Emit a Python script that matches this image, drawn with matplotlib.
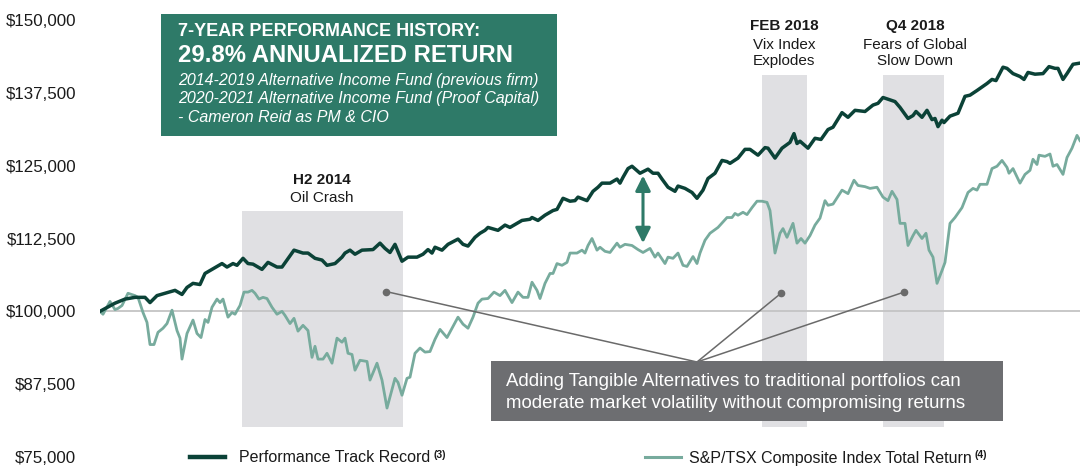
import matplotlib
matplotlib.use("Agg")
import matplotlib.pyplot as plt
from matplotlib.patches import Rectangle
from matplotlib.lines import Line2D
from matplotlib.transforms import Affine2D

plt.rcParams['font.family'] = ['Liberation Sans', 'DejaVu Sans']

# ---------------- data ----------------
# time axis is an untitled timeline position (no tick labels on the chart)
perf_t = [100, 115, 125, 135, 145, 150, 157, 165, 175, 182, 187, 193, 200, 205, 212, 222, 227, 233, 237, 243,
          248, 253, 262, 268, 277, 282, 287, 294, 303, 308, 315, 322, 327, 335, 342, 345, 350, 355, 362, 373,
          380, 385, 390, 395, 402, 408, 417, 423, 428, 432, 435, 442, 448, 458, 463, 468, 475, 480, 485, 488,
          492, 498, 505, 510, 522, 530, 532, 538, 545, 553, 557, 563, 570, 575, 578, 587, 593, 598, 602, 610,
          617, 620, 623, 628, 632, 640, 648, 653, 658, 662, 668, 675, 678, 685, 692, 697, 703, 708, 715, 722,
          727, 730, 738, 745, 750, 758, 765, 768, 775, 782, 790, 794, 797, 800, 808, 815, 821, 828, 833, 842,
          848, 855, 865, 873, 878, 883, 888, 895, 900, 908, 913, 916, 922, 927, 932, 935, 938, 942, 944, 950,
          958, 965, 970, 977, 987, 992, 996, 1003, 1007, 1013, 1020, 1024, 1028, 1035, 1043, 1049, 1055, 1058,
          1063, 1067, 1073, 1080]
perf_val = [100000, 101400, 102100, 102400, 102400, 101500, 102700, 103100, 103600, 102900, 104100, 104800,
            104600, 106500, 107200, 108200, 107600, 108200, 107900, 109100, 108200, 108100, 107200, 108400,
            107600, 107600, 108800, 110500, 110000, 110000, 109100, 108800, 107900, 108200, 109300, 110000,
            110500, 109800, 110500, 110600, 111700, 110800, 110100, 111500, 108600, 109300, 109300, 109800,
            110600, 110000, 111000, 110500, 111500, 112400, 111500, 111200, 112700, 113400, 113900, 114400,
            114200, 113900, 114800, 114400, 115600, 115800, 116100, 115600, 116500, 117300, 117500, 119400,
            118900, 119000, 119600, 119000, 120600, 121300, 122000, 122000, 122700, 122000, 123000, 124500,
            124900, 123700, 124400, 123700, 123700, 122700, 121300, 120600, 121500, 121100, 120400, 119400,
            120800, 122800, 123700, 125900, 125700, 125400, 126300, 127800, 127800, 126800, 128100, 128000,
            126300, 128000, 129000, 130500, 128800, 129200, 128000, 129700, 129500, 131200, 131600, 134100,
            133300, 134500, 134300, 135400, 135700, 136700, 136400, 136000, 135000, 133100, 133600, 134300,
            133300, 134500, 132900, 133100, 131700, 132800, 132400, 133500, 134000, 136900, 137100, 137900,
            139100, 139800, 139600, 141900, 141700, 140800, 140300, 139800, 141000, 140700, 140800, 142000,
            141700, 141700, 139800, 140800, 142400, 142600]

tsx_t = [100, 103, 110, 115, 118, 122, 128, 135, 138, 143, 147, 150, 154, 158, 163, 167, 172, 177, 180, 182,
         187, 193, 197, 201, 205, 208, 212, 217, 220, 223, 228, 232, 235, 240, 244, 248, 252, 255, 259, 263,
         267, 272, 277, 282, 285, 290, 294, 298, 303, 308, 312, 315, 318, 323, 327, 332, 337, 342, 345, 348,
         352, 355, 360, 367, 370, 377, 382, 387, 395, 398, 402, 407, 410, 415, 420, 425, 430, 435, 440, 447,
         453, 458, 463, 468, 473, 478, 482, 488, 494, 500, 505, 512, 518, 523, 528, 532, 537, 540, 545, 550,
         553, 557, 562, 567, 570, 577, 582, 585, 588, 592, 597, 600, 605, 610, 617, 620, 625, 632, 638, 643,
         650, 655, 658, 665, 668, 673, 678, 683, 687, 693, 697, 700, 705, 710, 718, 727, 732, 735, 738, 743,
         747, 752, 757, 762, 767, 770, 775, 780, 783, 787, 793, 797, 801, 805, 810, 815, 820, 825, 828, 833,
         842, 848, 854, 858, 865, 870, 877, 883, 888, 892, 897, 900, 905, 908, 913, 916, 922, 926, 929, 933,
         937, 942, 945, 950, 955, 962, 968, 973, 977, 980, 987, 992, 997, 1002, 1007, 1009, 1013, 1020, 1025,
         1030, 1033, 1037, 1039, 1045, 1050, 1053, 1057, 1063, 1067, 1072, 1077, 1080]
tsx_val = [100000, 99500, 101700, 100300, 100500, 101000, 103100, 102700, 102400, 99800, 98100, 94300, 94300,
           96400, 97100, 97900, 100200, 96700, 95400, 91800, 96200, 98500, 96200, 95500, 98600, 98100, 100700,
           102100, 101500, 102100, 99000, 99800, 99500, 101000, 103300, 103300, 103600, 103100, 102100, 102400,
           102200, 100700, 99500, 100000, 99300, 97900, 98800, 96600, 97600, 96700, 92100, 94000, 91800, 91800,
           92800, 91100, 95400, 94700, 95400, 92800, 92600, 89900, 91600, 91400, 88200, 91100, 88200, 83400,
           88500, 87800, 85600, 88500, 88700, 92800, 93700, 93000, 93100, 95200, 96900, 95500, 97400, 99000,
           97800, 97100, 99000, 101400, 102100, 102200, 103300, 102700, 103600, 101500, 103300, 102400, 102400,
           105000, 103600, 102200, 104800, 106500, 106500, 108200, 107900, 108400, 110000, 110000, 110500,
           110000, 111300, 112500, 110500, 111000, 110300, 110100, 111700, 111000, 111500, 111300, 110600,
           110100, 110800, 109300, 110000, 108200, 109300, 109100, 110000, 107900, 107700, 109400, 108200,
           110000, 112200, 113400, 114400, 116100, 116100, 116800, 116500, 117000, 116600, 117800, 118900,
           118900, 118700, 117300, 110000, 113400, 114200, 112700, 115100, 111700, 112500, 111700, 113000,
           114800, 116000, 119000, 118200, 118400, 120800, 120200, 122500, 121600, 121400, 121100, 121300,
           119600, 119000, 120600, 119200, 115100, 115100, 111300, 113000, 113900, 112500, 113400, 110500,
           109300, 104800, 107000, 108400, 115100, 116100, 117800, 120400, 121100, 120800, 121800, 121800,
           124500, 124900, 125900, 124700, 123700, 124500, 122000, 123500, 124200, 126100, 125200, 126800,
           126600, 127000, 124900, 125200, 123500, 126400, 128000, 130200, 129300]

y_ticks = [75000, 87500, 100000, 112500, 125000, 137500, 150000]
y_tick_labels = ["$75,000", "$87,500", "$100,000", "$112,500", "$125,000", "$137,500", "$150,000"]

event_titles = ["H2 2014", "FEB 2018", "Q4 2018"]
event_subs = ["Oil Crash", "Vix Index\nExplodes", "Fears of Global\nSlow Down"]
event_start = [242, 762, 883]
event_end = [403, 807, 944]

callout_points_t = [386, 781, 904]
callout_points_v = [103400, 103100, 103300]
gap_t = 643
gap_top, gap_bottom = 123300, 111700

series_names = ["Performance Track Record", "S&P/TSX Composite Index Total Return"]
series_notes = ["(3)", "(4)"]

# ---------------- styling ----------------
W, H = 1080, 466
DARK = "#0b4237"
LIGHT = "#77ab9d"
TEAL = "#2e7a68"
SHADE = "#e0e0e3"
GREYBOX = "#6d6e71"
TXT = "#1a1a1a"

fig = plt.figure(figsize=(W / 100, H / 100), dpi=100)
fig.patch.set_facecolor("white")
px = Affine2D().scale(1 / W, -1 / H).translate(0, 1) + fig.transFigure

ax = fig.add_axes([100 / W, 1 - 457 / H, 980 / W, (457 - 20) / H])
ax.set_xlim(100, 1080)
ax.set_ylim(75000, 150000)
for s in ax.spines.values():
    s.set_visible(False)
ax.set_xticks([])
ax.set_yticks(y_ticks)
ax.set_yticklabels(y_tick_labels)
ax.tick_params(axis="y", length=0, pad=17, labelsize=12.2, labelcolor=TXT)
ax.patch.set_alpha(0)

# baseline
ax.axhline(100000, color="#c4c4c4", lw=1.3, zorder=1)

# shaded event spans (top/bottom in pixel layout)
span_top_px = [211, 75, 75]
span_bottom_px = 427
for x0, x1, top in zip(event_start, event_end, span_top_px):
    ax.axvspan(x0, x1, ymin=(457 - span_bottom_px) / 437, ymax=(457 - top) / 437,
               color=SHADE, lw=0, zorder=0)

# series
ax.plot(tsx_t, tsx_val, color=LIGHT, lw=2.0, zorder=3, solid_joinstyle="round")
ax.plot(perf_t, perf_val, color=DARK, lw=2.5, zorder=4, solid_joinstyle="round")

# event labels
label_cx = [322, 784, 915]
label_title_y = [180, 26, 26]
label_sub_y = [198, 45, 45]
for title, sub, x0, yt, ys in zip(event_titles, event_subs, label_cx, label_title_y, label_sub_y):
    fig.text(x0, yt, title, transform=px, fontsize=11, fontweight="bold",
             color=TXT, ha="center", va="center")
    for k, line in enumerate(sub.split("\n")):
        fig.text(x0, ys + 16 * k, line, transform=px, fontsize=11, color=TXT,
                 ha="center", va="center")

# gap arrow
ax.annotate("", xy=(gap_t, gap_top), xytext=(gap_t, gap_bottom),
            arrowprops=dict(arrowstyle="<|-|>,head_length=0.9,head_width=0.45",
                            color=TEAL, lw=2.2, shrinkA=0, shrinkB=0), zorder=5)

# green headline box
fig.add_artist(Rectangle((161, 136), 396, -122, transform=px, facecolor=TEAL, edgecolor="none", zorder=1))
fig.text(178, 32, "7-YEAR PERFORMANCE HISTORY:", transform=px, fontsize=13, fontweight="bold",
         color="white", va="center", ha="left")
fig.text(178, 55, "29.8% ANNUALIZED RETURN", transform=px, fontsize=17.2, fontweight="bold",
         color="white", va="center", ha="left")
for i, line in enumerate(["2014-2019 Alternative Income Fund (previous firm)",
                          "2020-2021 Alternative Income Fund (Proof Capital)",
                          "- Cameron Reid as PM & CIO"]):
    fig.text(178, 80 + i * 19, line, transform=px, fontsize=11.5, style="italic",
             color="white", va="center", ha="left")

# callout
hub = (697, 362)
for tt, vv in zip(callout_points_t, callout_points_v):
    dx, dy = ax.transData.transform((tt, vv))
    fig.add_artist(Line2D([hub[0], dx], [hub[1], H - dy], transform=px, color="#6a6a6a", lw=1.1, zorder=6))
    ax.plot([tt], [vv], "o", color="#6a6a6a", ms=4.5, zorder=7)
fig.add_artist(Rectangle((491, 421), 512, -60, transform=px, facecolor=GREYBOX, edgecolor="none", zorder=7))
fig.text(506, 381, "Adding Tangible Alternatives to traditional portfolios can", transform=px,
         fontsize=13.4, color="white", va="center", ha="left", zorder=8)
fig.text(506, 404, "moderate market volatility without compromising returns", transform=px,
         fontsize=13.4, color="white", va="center", ha="left", zorder=8)

# legend
leg = [(190, 225, 239, DARK, 3.2), (645, 681, 689, LIGHT, 2.2)]
for (x1, x2, xt, col, lw), name, note in zip(leg, series_names, series_notes):
    fig.add_artist(Line2D([x1, x2], [457, 457], transform=px, color=col, lw=lw))
    t = fig.text(xt, 458, name, transform=px, fontsize=11.5, color=TXT, va="center", ha="left")
    ax.annotate(note, xy=(1, 1), xycoords=t, xytext=(2, 0), textcoords="offset points",
                fontsize=7.5, fontweight="bold", color=TXT, ha="left", va="top", annotation_clip=False)

fig.savefig("out.png", dpi=100)
